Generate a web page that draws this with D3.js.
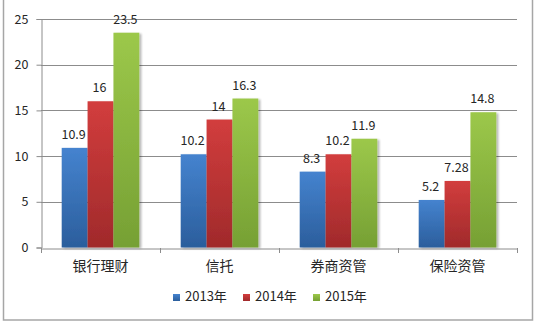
<!DOCTYPE html>
<html>
<head>
<meta charset="utf-8">
<script src="https://cdn.jsdelivr.net/npm/d3@7"></script>
<style>
  html, body { margin: 0; padding: 0; background: #fff; }
  svg { display: block; }
  text { font-family: "Noto Sans CJK SC", "DejaVu Sans", sans-serif; fill: #262626; }
</style>
</head>
<body>
<svg id="chart" width="535" height="323"></svg>
<script>
// Asset-management scale by channel, 2013–2015
const categories = ["银行理财", "信托", "券商资管", "保险资管"];
const seriesNames = ["2013年", "2014年", "2015年"];
const values2013 = [10.9, 10.2, 8.3, 5.2];
const values2014 = [16, 14, 10.2, 7.28];
const values2015 = [23.5, 16.3, 11.9, 14.8];
const yTicks = [0, 5, 10, 15, 20, 25];

const seriesValues = [values2013, values2014, values2015];
const colorTop = ["#4583cf", "#d23d3d", "#9cc84a"];
const colorBottom = ["#2b5e9c", "#a02a2b", "#76a034"];

const svg = d3.select("#chart");
const plot = { left: 41, right: 517, top: 19, bottom: 247.5 };

// Outer frame
svg.append("rect")
  .attr("x", 3.5).attr("y", -1)
  .attr("width", 529).attr("height", 321)
  .attr("fill", "#fff")
  .attr("stroke", "#a6a6a6").attr("stroke-width", 1.5);

const defs = svg.append("defs");
seriesNames.forEach((s, i) => {
  const g = defs.append("linearGradient")
    .attr("id", "grad" + i).attr("x1", 0).attr("y1", 0).attr("x2", 0).attr("y2", 1);
  g.append("stop").attr("offset", "0%").attr("stop-color", colorTop[i]);
  g.append("stop").attr("offset", "100%").attr("stop-color", colorBottom[i]);
});
const shadow = defs.append("filter").attr("id", "shadow")
  .attr("x", "-20%").attr("y", "-5%").attr("width", "150%").attr("height", "115%");
shadow.append("feGaussianBlur").attr("in", "SourceAlpha").attr("stdDeviation", 1.2).attr("result", "b");
shadow.append("feOffset").attr("in", "b").attr("dx", 1.5).attr("dy", 1).attr("result", "o");
shadow.append("feComponentTransfer").attr("in", "o").attr("result", "s")
  .append("feFuncA").attr("type", "linear").attr("slope", 0.3);
const m = shadow.append("feMerge");
m.append("feMergeNode").attr("in", "s");
m.append("feMergeNode").attr("in", "SourceGraphic");

const y = d3.scaleLinear().domain([0, 25]).range([plot.bottom, plot.top]);
const x0 = d3.scaleBand().domain(categories).range([plot.left, plot.right]).paddingInner(0).paddingOuter(0);
// Each category: 3 bars plus a gap of 1.6 bar widths
const gapRatio = 1.6;
const barW = x0.bandwidth() / (3 + gapRatio);
const x1 = d3.scaleBand().domain(seriesNames).range([barW * gapRatio / 2, barW * gapRatio / 2 + barW * 3]);

// Gridlines
svg.append("g").selectAll("line").data(yTicks.filter(t => t > 0)).join("line")
  .attr("x1", plot.left).attr("x2", plot.right)
  .attr("y1", d => Math.round(y(d)) + 0.5).attr("y2", d => Math.round(y(d)) + 0.5)
  .attr("stroke", "#8c8c8c").attr("stroke-width", 1);

// Y axis
const yAxis = svg.append("g").attr("transform", `translate(${plot.left + 0.5},0)`)
  .call(d3.axisLeft(y).tickValues(yTicks).tickSize(5).tickPadding(8).tickFormat(d3.format("d")));
yAxis.select(".domain").attr("stroke", "#8c8c8c");
yAxis.selectAll(".tick line").attr("stroke", "#8c8c8c");
yAxis.selectAll(".tick text").attr("fill", "#262626")
  .attr("font-family", "'DejaVu Sans', sans-serif").style("font-size", "12.5px");

// Bars
const groups = svg.append("g").selectAll("g").data(categories).join("g")
  .attr("transform", d => `translate(${x0(d)},0)`);
groups.each(function(cat, ci) {
  const g = d3.select(this);
  seriesNames.forEach((s, si) => {
    const v = seriesValues[si][ci];
    g.append("rect")
      .attr("x", x1(s)).attr("width", x1.bandwidth())
      .attr("y", y(v)).attr("height", y(0) - y(v))
      .attr("fill", `url(#grad${si})`)
      .attr("filter", "url(#shadow)");
  });
});

// Data labels
groups.each(function(cat, ci) {
  const g = d3.select(this);
  seriesNames.forEach((s, si) => {
    const v = seriesValues[si][ci];
    g.append("text")
      .attr("x", x1(s) + x1.bandwidth() / 2 - 1)
      .attr("y", y(v) - 9)
      .attr("text-anchor", "middle")
      .attr("font-family", "'DejaVu Sans', sans-serif")
      .attr("font-size", 12.5)
      .attr("fill", "#333")
      .text(String(v));
  });
});

// X axis
const xAxis = svg.append("g").attr("transform", `translate(0,${Math.round(plot.bottom) + 0.5})`)
  .call(d3.axisBottom(x0).tickSize(0).tickPadding(13));
xAxis.select(".domain").attr("stroke", "#8c8c8c");
xAxis.selectAll(".tick text").attr("font-size", 14).attr("fill", "#262626");
// Category separators
svg.append("g").selectAll("line")
  .data(d3.range(categories.length + 1))
  .join("line")
  .attr("x1", i => plot.left + i * x0.step() + 0.5).attr("x2", i => plot.left + i * x0.step() + 0.5)
  .attr("y1", Math.round(plot.bottom)).attr("y2", Math.round(plot.bottom) + 5)
  .attr("stroke", "#8c8c8c");

// Legend
const legendX = [173, 243, 313];
const legend = svg.append("g");
seriesNames.forEach((s, i) => {
  legend.append("rect")
    .attr("x", legendX[i]).attr("y", 294)
    .attr("width", 7).attr("height", 7)
    .attr("fill", `url(#grad${i})`);
  legend.append("text")
    .attr("x", legendX[i] + 12).attr("y", 301)
    .attr("font-size", 13)
    .attr("fill", "#262626")
    .text(s);
});
</script>
</body>
</html>
